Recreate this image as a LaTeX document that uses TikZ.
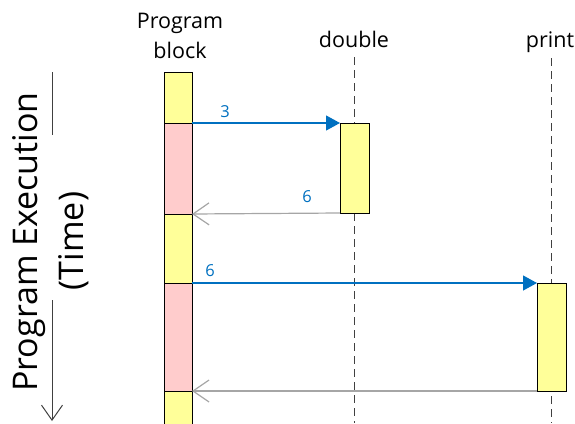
\documentclass[tikz,border=0pt]{standalone}
\usepackage{fontspec}
\setmainfont{Open Sans}
\usetikzlibrary{arrows.meta}
\definecolor{callblue}{HTML}{0070C0}
\definecolor{retgray}{HTML}{A6A6A6}
\definecolor{actyellow}{HTML}{FFFF99}
\definecolor{actpink}{HTML}{FFCCCC}
\definecolor{lifegray}{HTML}{404040}
\tikzset{
  ybox/.style={draw=black, line width=1pt, fill=actyellow, minimum width=28pt, inner sep=0pt, outer sep=0pt},
  pbox/.style={draw=black, line width=1pt, fill=actpink, minimum width=28pt, inner sep=0pt, outer sep=0pt},
  lifeline/.style={draw=lifegray, line width=1pt, dash pattern=on 8pt off 5pt},
  callarrow/.style={draw=callblue, line width=1.2pt, -{Triangle[length=14pt,width=15pt]}},
  retarrow/.style={draw=retgray, line width=1.2pt, -{Straight Barb[length=16pt,width=22pt,line width=1.2pt]}},
  head/.style={font=\fontsize{21.5}{24}\selectfont, anchor=base},
  msg/.style={font=\fontsize{16.5}{19}\selectfont, text=callblue, anchor=base},
  axis/.style={font=\fontsize{34}{37}\selectfont, rotate=90, anchor=base},
}
\begin{document}
\begin{tikzpicture}[x=1pt,y=-1pt]
\useasboundingbox (0,0) rectangle (575,423);
% headers
\node[head] (hprog1) at (180,28) {Program};
\node[head] (hprog2) at (180,58) {block};
\node[head] (hdouble) at (354,47) {double};
\node[head] (hprint) at (550,47) {print};
% lifelines
\coordinate (dtop) at (354,57);
\coordinate (dbot) at (354,423);
\coordinate (ptop) at (551,58);
\coordinate (pbot) at (551,423);
\draw[lifeline] (dtop) -- (dbot);
\draw[lifeline] (ptop) -- (pbot);
% program block segments
\node[ybox, minimum height=51pt] (s1) at (178,97.5) {};
\node[pbox, minimum height=91pt] (s2) at (178,168.5) {};
\node[ybox, minimum height=69pt] (s3) at (178,248.5) {};
\node[pbox, minimum height=108pt] (s4) at (178,337) {};
\node[ybox, minimum height=40pt] (s5) at (178,411) {};
% activation boxes
\node[ybox, minimum width=29pt, minimum height=90pt] (bd) at (354.5,168) {};
\node[ybox, minimum width=29pt, minimum height=108pt] (bp) at (551.5,337) {};
% messages
\draw[callarrow] (s2.north east) -- (bd.north west);
\draw[retarrow] (bd.south west) -- (s2.south east);
\draw[callarrow] (s4.north east) -- (bp.north west);
\draw[retarrow] (bp.south west) -- (s4.south east);
\node[msg] (m1) at (225,117) {3};
\node[msg] (m2) at (307,202) {6};
\node[msg] (m3) at (210,276) {6};
% time axis
\node[axis] (ax1) at (37,242) {Program Execution};
\node[axis] (ax2) at (83,241) {(Time)};
\coordinate (t1) at (52,72);
\coordinate (t2) at (52,135);
\coordinate (t3) at (52,300);
\coordinate (t4) at (52,421);
\draw[lifegray, line width=1pt] (t1) -- (t2);
\draw[lifegray, line width=1pt, -{Straight Barb[length=15pt,width=21pt,line width=1pt]}] (t3) -- (t4);
\end{tikzpicture}
\end{document}
